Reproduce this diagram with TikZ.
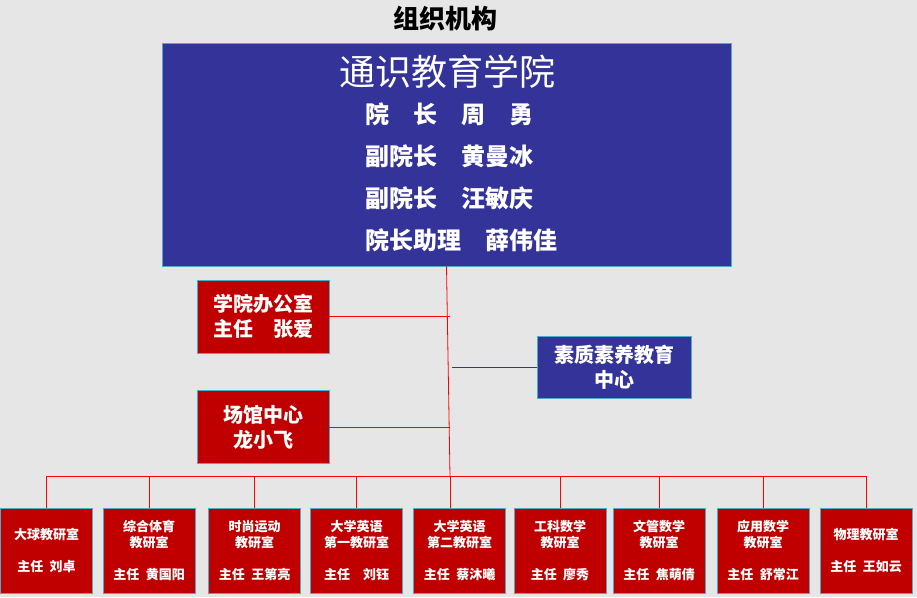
\documentclass[tikz,border=0pt]{standalone}
\usepackage{fontspec}
\setmainfont{Noto Sans CJK SC}
\definecolor{bgray}{HTML}{E6E6E6}
\definecolor{navy}{HTML}{333399}
\definecolor{dred}{HTML}{C00000}
\definecolor{edge}{HTML}{4BACC6}
\tikzset{
  unit/.style={draw=edge,line width=0.8pt,text=white,inner sep=0pt,align=center},
  dept/.style={unit,fill=dred,minimum width=132pt,minimum height=73pt,font=\fontsize{20}{25}\selectfont\bfseries},
  room/.style={unit,fill=dred,minimum width=92pt,minimum height=85pt,font=\fontsize{13}{16}\selectfont\bfseries},
  lead/.style={anchor=west,inner sep=0pt,text=white,font=\fontsize{24}{28}\selectfont\bfseries},
  link/.style={red,line width=0.8pt}
}

\begin{document}
\begin{tikzpicture}[x=1pt,y=-1pt]
                    \fill[bgray] (0,0) rectangle (917,597);
                    \useasboundingbox (0,0) rectangle (917,597);
                    \node[font=\fontsize{26}{30}\selectfont\bfseries] (title) at (445,19) {组织机构};
                    \node[unit,fill=navy,minimum width=569pt,minimum height=223pt] (college) at (446.5,154.5) {};
                    \node[text=white,font=\fontsize{36}{40}\selectfont] (name) at (447,72) {通识教育学院};
                    \node[lead] (dean) at (365,114) {院　长　周　勇};
                    \node[lead] (vice1) at (365,156) {副院长　黄曼冰};
                    \node[lead] (vice2) at (365,198) {副院长　汪敏庆};
                    \node[lead] (aide) at (365,240) {院长助理　薛伟佳};
                    \node[dept] (office) at (263,316.5) {学院办公室\\主任　张爱};
                    \node[dept] (venue) at (263,427) {场馆中心\\龙小飞};
                    \node[dept,fill=navy,minimum width=154pt,minimum height=62pt] (quality) at (614.5,367.5) {素质素养教育\\中心};
                    \node[room] (ball) at (46.5,550.5) {大球教研室\\[16pt]主任\enspace 刘卓};
                    \node[room] (sport) at (149,550.5) {综合体育\\教研室\\[16pt]主任\enspace 黄国阳};
                    \node[room] (fashion) at (254.5,550.5) {时尚运动\\教研室\\[16pt]主任\enspace 王第亮};
                    \node[room] (engA) at (356.5,550.5) {大学英语\\第一教研室\\[16pt]主任\quad 刘钰};
                    \node[room] (engB) at (459.5,550.5) {大学英语\\第二教研室\\[16pt]主任\enspace 蔡沐曦};
                    \node[room] (engmath) at (560,550.5) {工科数学\\教研室\\[16pt]主任\enspace 廖秀};
                    \node[room] (artmath) at (659,550.5) {文管数学\\教研室\\[16pt]主任\enspace 焦萌倩};
                    \node[room] (appmath) at (763,550.5) {应用数学\\教研室\\[16pt]主任\enspace 舒常江};
                    \node[room] (physics) at (866,550.5) {物理教研室\\[16pt]主任\enspace 王如云};
                    \coordinate (hub) at (450,476);
                    \draw[link] (college.south) -- (hub);
                    \draw[link] (office.east) -- (office.east -| hub) (venue.east) -- (venue.east -| hub);
                    \draw[navy,line width=0.8pt] (quality.west) -- ([xshift=2pt]quality.west -| hub);
                    \draw[link] (ball.north |- hub) -- (physics.north |- hub);
                    \draw[link] (ball) -- (ball |- hub) (sport) -- (sport |- hub) (fashion) -- (fashion |- hub)
                                (engA) -- (engA |- hub) (hub) -- (hub |- engB.north) (engmath) -- (engmath |- hub)
                                (artmath) -- (artmath |- hub) (appmath) -- (appmath |- hub) (physics) -- (physics |- hub);
                \end{tikzpicture}
\end{document}
